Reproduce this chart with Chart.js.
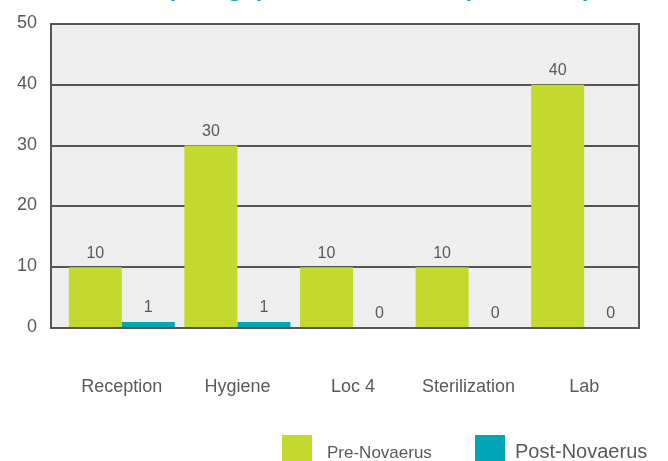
<!DOCTYPE html>
<html>
<head>
<meta charset="utf-8">
<script src="https://cdn.jsdelivr.net/npm/chart.js@4/dist/chart.umd.min.js"></script>
<style>
  html, body { margin: 0; padding: 0; background: #ffffff; overflow: hidden; width: 668px; height: 461px; }
  #wrap { position: absolute; left: 0; top: -20px; width: 668px; height: 500px; }
</style>
</head>
<body>
<div id="wrap"><canvas id="c" width="668" height="500"></canvas></div>
<script>
const titleText = "Sampling point counts (in CFU)";
const categories = ["Reception", "Hygiene", "Loc 4", "Sterilization", "Lab"];
const seriesNames = ["Pre-Novaerus", "Post-Novaerus"];
const preValues = [10, 30, 10, 10, 40];
const postValues = [1, 1, 0, 0, 0];
const yTicks = [0, 10, 20, 30, 40, 50];

const GREEN = "#c4d92e";
const CYAN = "#00a5b6";
const LINE = "#555555";
const TEXT = "#595959";
const FONT = "'Liberation Sans', Arial, sans-serif";

const decor = {
  id: "decor",
  beforeDatasetsDraw(chart) {
    const ctx = chart.ctx, a = chart.chartArea, y = chart.scales.y;
    const L = a.left - 13, R = a.right - 3;
    ctx.save();
    ctx.fillStyle = "#eeeeee";
    ctx.fillRect(L, y.getPixelForValue(yTicks[yTicks.length - 1]), R - L, y.getPixelForValue(0) - y.getPixelForValue(yTicks[yTicks.length - 1]));
    ctx.strokeStyle = LINE;
    ctx.lineWidth = 2;
    yTicks.forEach(v => {
      const py = Math.round(y.getPixelForValue(v));
      ctx.beginPath(); ctx.moveTo(L, py); ctx.lineTo(R, py); ctx.stroke();
    });
    ctx.restore();
  },
  afterDatasetsDraw(chart) {
    const ctx = chart.ctx, a = chart.chartArea, y = chart.scales.y;
    const L = a.left - 13, R = a.right - 3;
    const T = Math.round(y.getPixelForValue(yTicks[yTicks.length - 1]));
    const B = Math.round(y.getPixelForValue(0));
    ctx.save();
    ctx.strokeStyle = LINE;
    ctx.lineWidth = 2;
    ctx.strokeRect(L, T, R - L, B - T);
    // value labels
    ctx.fillStyle = TEXT;
    ctx.font = "16px " + FONT;
    ctx.textAlign = "center";
    ctx.textBaseline = "middle";
    chart.data.datasets.forEach((ds, di) => {
      const meta = chart.getDatasetMeta(di);
      meta.data.forEach((el, i) => {
        ctx.fillText(String(ds.data[i]), el.x, el.y - 14);
      });
    });
    // title (mostly above the visible area)
    ctx.fillStyle = CYAN;
    ctx.font = "36px " + FONT;
    ctx.textAlign = "center";
    ctx.textBaseline = "alphabetic";
    ctx.fillText(titleText, 345, 13);
    // legend
    const items = [
      { name: seriesNames[0], color: GREEN, bx: 282, tx: 327, size: 17 },
      { name: seriesNames[1], color: CYAN, bx: 475, tx: 515, size: 20 }
    ];
    items.forEach(it => {
      ctx.fillStyle = it.color;
      ctx.fillRect(it.bx, 455, 30, 30);
      ctx.fillStyle = TEXT;
      ctx.font = it.size + "px " + FONT;
      ctx.textAlign = "left";
      ctx.fillText(it.name, it.tx, 478);
    });
    ctx.restore();
  }
};

new Chart(document.getElementById("c"), {
  type: "bar",
  data: {
    labels: categories,
    datasets: [
      { label: seriesNames[0], data: preValues, backgroundColor: GREEN, borderWidth: 0 },
      { label: seriesNames[1], data: postValues, backgroundColor: CYAN, borderWidth: 0 }
    ]
  },
  options: {
    responsive: false,
    devicePixelRatio: 1,
    animation: false,
    categoryPercentage: 0.917,
    barPercentage: 1,
    layout: { padding: { top: 44, right: 26, bottom: 72, left: 0 } },
    plugins: {
      legend: { display: false },
      title: { display: false },
      tooltip: { enabled: false }
    },
    scales: {
      x: {
        grid: { display: false, drawTicks: false },
        border: { display: false },
        ticks: { color: TEXT, font: { family: FONT, size: 18 }, padding: 48 },
        afterFit(axis) { axis.height = 80; }
      },
      y: {
        min: 0, max: 50,
        grid: { display: false, drawTicks: false },
        border: { display: false },
        ticks: { stepSize: 10, color: TEXT, font: { family: FONT, size: 18 }, padding: 27, labelOffset: -1 },
        afterFit(axis) { axis.width = 64; }
      }
    }
  },
  plugins: [decor]
});
</script>
</body>
</html>
